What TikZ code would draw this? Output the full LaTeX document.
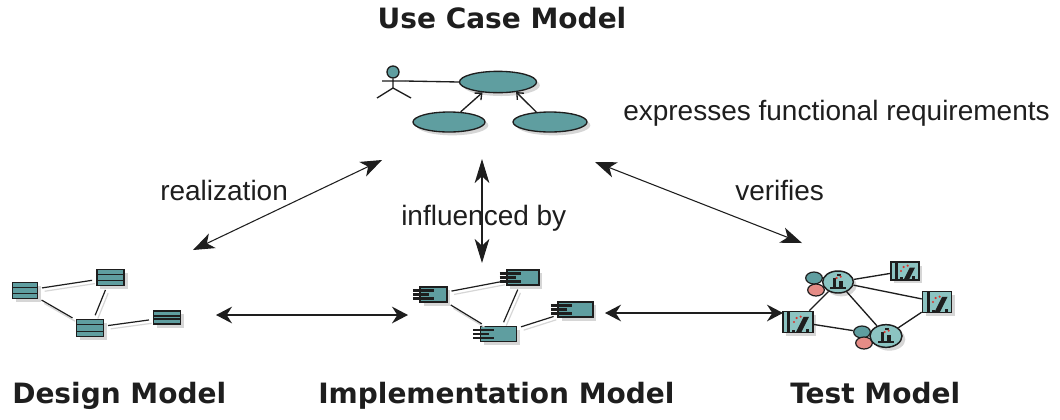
\documentclass[tikz,border=0pt]{standalone}
\usepackage{fontspec}
\setmainfont{Liberation Sans}
\newfontfamily\titlefont{DejaVu Sans}
\usetikzlibrary{arrows.meta,shapes.geometric,shadows,calc}
\definecolor{ucteal}{HTML}{5F9EA0}
\definecolor{ink}{HTML}{1E1E1E}
\definecolor{shade}{HTML}{D6D6D6}
\definecolor{rosy}{HTML}{E58C86}
\definecolor{paleteal}{HTML}{8CC4C2}
\definecolor{reddot}{HTML}{D8342E}
\begin{document}
\begin{tikzpicture}[x=0.75pt,y=-0.75pt,
  sh/.style={drop shadow={shadow xshift=2.5pt,shadow yshift=-2.5pt,fill=shade,opacity=1}},
  usecase/.style={ellipse,draw=ink,line width=1pt,fill=ucteal,inner sep=0pt,sh},
  classbox/.style={rectangle,draw=ink,line width=1.1pt,fill=ucteal,inner sep=0pt,sh,
    path picture={\draw[ink,line width=1.1pt]
      ([yshift=-3.8pt]path picture bounding box.north west) -- ([yshift=-3.8pt]path picture bounding box.north east)
      ([yshift=3.8pt]path picture bounding box.south west) -- ([yshift=3.8pt]path picture bounding box.south east);}},
  comp/.style={rectangle,draw=ink,line width=1.1pt,fill=ucteal,inner sep=0pt,minimum height=11.5pt,sh},
  tabbar/.style={ink,line width=1.6pt},
  link/.style={ink,line width=0.9pt,shorten <=3pt,shorten >=3pt,
    preaction={draw=shade,line width=0.9pt,transform canvas={xshift=2pt,yshift=-2.5pt}}},
  tlink/.style={ink,line width=1pt},
  blob/.style={ellipse,draw=ink,line width=0.9pt,inner sep=0pt,minimum width=12.5pt,minimum height=9pt},
  tcase/.style={ellipse,draw=ink,line width=1.1pt,fill=paleteal,inner sep=0pt,sh,
    path picture={
      \fill[ink] ([xshift=-4pt,yshift=3pt]path picture bounding box.center) rectangle ++(2.2pt,-7pt);
      \fill[ink] ([xshift=1pt,yshift=1pt]path picture bounding box.center) rectangle ++(2.5pt,-5pt);
      \fill[ink] ([xshift=-6pt,yshift=-4pt]path picture bounding box.center) rectangle ++(12pt,-1.5pt);
      \fill[ink] ([xshift=-1pt,yshift=6pt]path picture bounding box.center) rectangle ++(3pt,-1.5pt);
      \fill[reddot] ([xshift=-1pt,yshift=3pt]path picture bounding box.center) circle (0.9pt);
      \fill[reddot] ([xshift=2pt,yshift=4pt]path picture bounding box.center) circle (0.9pt);}},
  tscript/.style={rectangle,draw=ink,line width=1.3pt,fill=paleteal,inner sep=0pt,sh,
    path picture={
      \fill[ink] ([xshift=3pt]path picture bounding box.north west) rectangle ++(2.4pt,-20pt);
      \fill[ink] ([xshift=-7pt,yshift=-4pt]path picture bounding box.north east) -- ++(4pt,0pt) -- ++(-6pt,-12pt) -- ++(-4pt,0pt) -- cycle;
      \fill[ink] ([xshift=-3pt,yshift=-2pt]path picture bounding box.south east) rectangle ++(-2pt,5pt);
      \fill[ink] ([xshift=7pt,yshift=-2pt]path picture bounding box.south west) rectangle ++(2pt,4pt);
      \fill[reddot] ([xshift=-1pt,yshift=3pt]path picture bounding box.center) circle (0.9pt);
      \fill[reddot] ([xshift=2pt,yshift=4pt]path picture bounding box.center) circle (0.9pt);
      \fill[reddot] ([xshift=-3pt,yshift=0pt]path picture bounding box.center) circle (0.8pt);}},
  incl/.style={ink,line width=1pt,-{Straight Barb[length=4pt,width=7pt]}},
  bigarrow/.style={draw=ink,line width=0.8pt,{Stealth[length=16pt,width=12pt,inset=4.5pt]}-{Stealth[length=16pt,width=12pt,inset=4.5pt]}},
  hzarrow/.style={draw=ink,line width=1.5pt,{Stealth[length=12pt,width=12.5pt,inset=4pt]}-{Stealth[length=12pt,width=12.5pt,inset=4pt]}},
  vtarrow/.style={draw=ink,line width=1.2pt,{Stealth[length=18pt,width=11pt,inset=5pt]}-{Stealth[length=18pt,width=11pt,inset=5pt]}},
  title/.style={font=\titlefont\bfseries\fontsize{21}{25}\selectfont,text=ink,inner sep=0pt},
  lbl/.style={font=\fontsize{21}{25}\selectfont,text=ink,inner sep=0pt}]
\useasboundingbox[fill=white] (0,0) rectangle (1060,419);

% ---------- titles ----------
\node[title,anchor=base] (tUC) at (502,28) {Use Case Model};
\node[title,anchor=base west] (tDM) at (12,403) {Design Model};
\node[title,anchor=base west] (tIM) at (318,403) {Implementation Model};
\node[title,anchor=base west] (tTM) at (790,403) {Test Model};

% ---------- use case model ----------
\node[usecase,minimum width=57.75pt,minimum height=16pt] (ucMain) at (498,82) {};
\node[usecase,minimum width=54pt,minimum height=15pt] (ucL) at (449,122) {};
\node[usecase,minimum width=55.5pt,minimum height=15pt] (ucR) at (550,122) {};
\node[circle,draw=ink,line width=1pt,fill=ucteal,minimum size=9pt,inner sep=0pt] (actHead) at (393,72) {};
\coordinate (actHip) at (393,88);
\coordinate (actArmL) at (382,81);
\coordinate (actArmR) at (405,81);
\coordinate (actFootL) at (377,98);
\coordinate (actFootR) at (411,98);
\draw[ink,line width=1pt] (actHead.south) -- (actHip) -- (actFootL) (actHip) -- (actFootR) (actArmL) -- (actArmR);
\draw[ink,line width=1pt] (actArmR) -- (ucMain.west);
\draw[incl] (ucL.41) -- (ucMain.-146);
\draw[incl] (ucR.144) -- (ucMain.-29);
\node[lbl,anchor=base west] (lExp) at (623,120) {expresses functional requirements};

% ---------- design model ----------
\node[classbox,minimum width=18.5pt,minimum height=12pt] (dA) at (25,290.5) {};
\node[classbox,minimum width=20.5pt,minimum height=12pt] (dB) at (110.5,277.5) {};
\node[classbox,minimum width=20pt,minimum height=12.5pt] (dC) at (90,328) {};
\node[classbox,minimum width=20pt,minimum height=10pt] (dD) at (167,317.5) {};
\draw[link] (dA) -- (dB);
\draw[link] (dA) -- (dC);
\draw[link] (dB) -- (dC);
\draw[link] (dC) -- (dD);

% ---------- implementation model ----------
\node[comp,minimum width=20pt] (iA) at (433.5,294.5) {};
\node[comp,minimum width=24pt] (iB) at (523,277.5) {};
\node[comp,minimum width=27pt,minimum height=11pt] (iC) at (498.5,334) {};
\node[comp,minimum width=26pt] (iD) at (575.5,309.5) {};
\foreach \n in {iA,iB,iC,iD}{
  \draw[tabbar] ([xshift=-5pt,yshift=3pt]\n.west) -- ++(16pt,0pt);
  \draw[tabbar] ([xshift=-5pt]\n.west) -- ++(12pt,0pt);
  \draw[tabbar] ([xshift=-5pt,yshift=-3pt]\n.west) -- ++(16pt,0pt);
}
\draw[link] (iA) -- (iB);
\draw[link] (iA) -- (iC);
\draw[link] (iB) -- (iC);
\draw[link] (iC) -- (iD);

% ---------- test model ----------
\node[blob,fill=ucteal] (t1a) at (814,278) {};
\node[blob,fill=rosy] (t1b) at (816,290) {};
\node[tcase,minimum width=23pt,minimum height=16.5pt] (t1) at (838,282) {};
\node[blob,fill=ucteal] (t2a) at (862,332) {};
\node[blob,fill=rosy] (t2b) at (864,343) {};
\node[tcase,minimum width=24pt,minimum height=17pt] (t2) at (886,336) {};
\node[tscript,minimum width=21pt,minimum height=13pt] (s1) at (905,271) {};
\node[tscript,minimum width=21.75pt,minimum height=15.75pt] (s2) at (937,302) {};
\node[tscript,minimum width=22.5pt,minimum height=15.75pt] (s3) at (798,322) {};
\draw[tlink] (t1) -- (s1);
\draw[tlink] (t1) -- (s2);
\draw[tlink] (t1) -- (s3);
\draw[tlink] (t1) -- (t2);
\draw[tlink] (s3) -- (t2a);
\draw[tlink] (s2) -- (t2);

% ---------- relations between models ----------
\node[lbl,anchor=base west] (lReal) at (160,200) {realization};
\node[lbl,anchor=base west] (lInfl) at (401,225) {influenced by};
\node[lbl,anchor=base west] (lVer) at (735,200) {verifies};
\coordinate (ucSW) at (382,160);
\coordinate (dmNE) at (193,250);
\coordinate (ucSE) at (595,162);
\coordinate (tmNW) at (802,243);
\coordinate (ucS) at (482,159);
\coordinate (imN) at (482,263);
\coordinate (dmE) at (216,315);
\coordinate (imW) at (408,315);
\coordinate (imE) at (605,313);
\coordinate (tmW) at (783,313);
\draw[bigarrow] (dmNE) -- (ucSW);
\draw[bigarrow] (ucSE) -- (tmNW);
\draw[vtarrow] (ucS) -- (imN);
\draw[hzarrow] (dmE) -- (imW);
\draw[hzarrow] (imE) -- (tmW);
\end{tikzpicture}
\end{document}
